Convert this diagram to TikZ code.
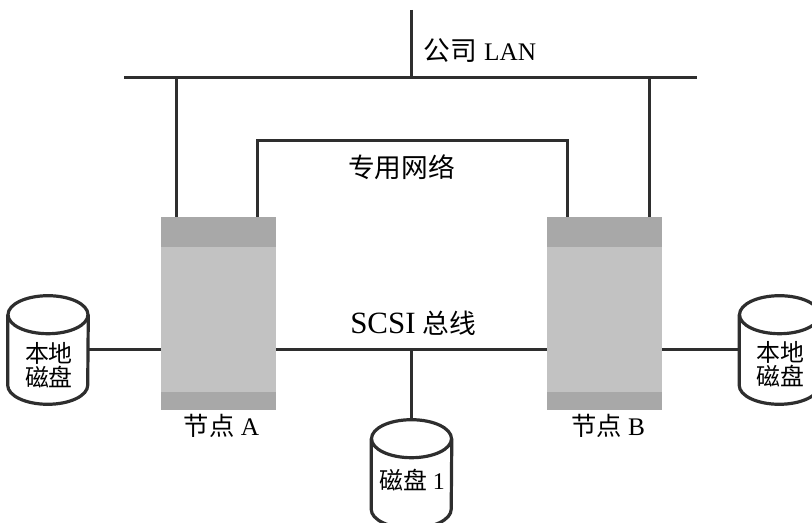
\documentclass[tikz,border=0pt]{standalone}
\usepackage{fontspec}
\usepackage{tikz}
\setmainfont{Liberation Serif}
\newfontfamily\cjk{Noto Sans CJK SC}
\definecolor{bandgray}{gray}{0.66}
\definecolor{bodygray}{gray}{0.76}
\definecolor{wiregray}{gray}{0.18}
\tikzset{
  wire/.style={line width=0.075cm,color=wiregray},
  nodebody/.style={fill=bodygray,draw=none,minimum width=2.875cm,minimum height=4.825cm,inner sep=0},
  nodeband/.style={fill=bandgray,draw=none,minimum width=2.875cm,inner sep=0},
  diskbox/.style={draw=none,minimum width=2cm,minimum height=2.7cm,inner sep=0},
  diskline/.style={line width=0.08cm,color=wiregray},
  lbl/.style={font=\fontsize{18}{17}\selectfont,inner sep=0,align=center},
  lblbig/.style={font=\fontsize{19}{17}\selectfont,inner sep=0,align=center},
  lbldisk/.style={font=\fontsize{17}{17}\selectfont,inner sep=0,align=center}
}
\newcommand{\diskshape}[1]{
  \draw[diskline] ([yshift=-0.475cm]#1.north) ellipse (40 and 19);
  \draw[diskline] ([yshift=-0.475cm]#1.north west) -- ([yshift=0.475cm]#1.south west)
    arc[start angle=180,end angle=0,x radius=40,y radius=19] -- ([yshift=-0.475cm]#1.north east);
}
\begin{document}
\begin{tikzpicture}[x=0.025cm,y=-0.025cm]
  \useasboundingbox (0,0) rectangle (812,523);
  \clip (0,0) rectangle (812,523);
  % nodes
  \node[nodebody] (nodeA) at (218.5,313.5) {};
  \node[nodeband,minimum height=0.75cm,anchor=north] (nodeAtop) at (nodeA.north) {};
  \node[nodeband,minimum height=0.45cm,anchor=south] (nodeAbot) at (nodeA.south) {};
  \node[nodebody] (nodeB) at (604.5,313.5) {};
  \node[nodeband,minimum height=0.75cm,anchor=north] (nodeBtop) at (nodeB.north) {};
  \node[nodeband,minimum height=0.45cm,anchor=south] (nodeBbot) at (nodeB.south) {};
  % disks
  \node[diskbox] (diskL) at (48,350) {};
  \node[diskbox] (diskR) at (779.5,350) {};
  \node[diskbox] (diskM) at (411.5,474) {};
  \diskshape{diskL}
  \diskshape{diskR}
  \diskshape{diskM}
  % free ends
  \coordinate (lanL) at (124,78);
  \coordinate (lanR) at (697,78);
  \coordinate (lanT) at (411.5,10);
  \coordinate (lanM) at (411.5,78);
  \coordinate (lanA) at (176,78);
  \coordinate (lanB) at (649,78);
  \coordinate (privA) at (257,141);
  \coordinate (privB) at (567,141);
  \coordinate (busM) at (411.5,350);
  % lan
  \draw[wire] (lanL) -- (lanR);
  \draw[wire] (lanT) -- (lanM);
  \draw[wire] (lanA) -- (lanA |- nodeA.north);
  \draw[wire] (lanB) -- (lanB |- nodeB.north);
  \draw[wire] (privA |- nodeA.north) -- (privA) -- (privB) -- (privB |- nodeB.north);
  % scsi
  \draw[wire] (diskL.east |- busM) -- (nodeA.west |- busM);
  \draw[wire] (nodeA.east |- busM) -- (nodeB.west |- busM);
  \draw[wire] (nodeB.east |- busM) -- (diskR.west |- busM);
  \draw[wire] (busM) -- (diskM.north);
  % labels
  \node[lblbig] (lblLan) at (480,50.5) {{\cjk 公司} {\fontsize{18}{17}\selectfont LAN}};
  \node[lblbig] (lblPriv) at (401.5,167) {\cjk 专用网络};
  \node[lblbig] (lblScsi) at (413,323.5) {{\fontsize{22}{17}\selectfont SCSI} {\cjk 总线}};
  \node[lbl] (lblA) at (221.5,426) {{\cjk 节点} A};
  \node[lbl] (lblB) at (608,426) {{\cjk 节点} B};
  \node[lbldisk] (lblDL) at (49,365.5) {\cjk 本地\\\cjk 磁盘};
  \node[lbldisk] (lblDR) at (780.5,364.5) {\cjk 本地\\\cjk 磁盘};
  \node[lbldisk] (lblDM) at (412,480) {{\cjk 磁盘} 1};
\end{tikzpicture}
\end{document}
